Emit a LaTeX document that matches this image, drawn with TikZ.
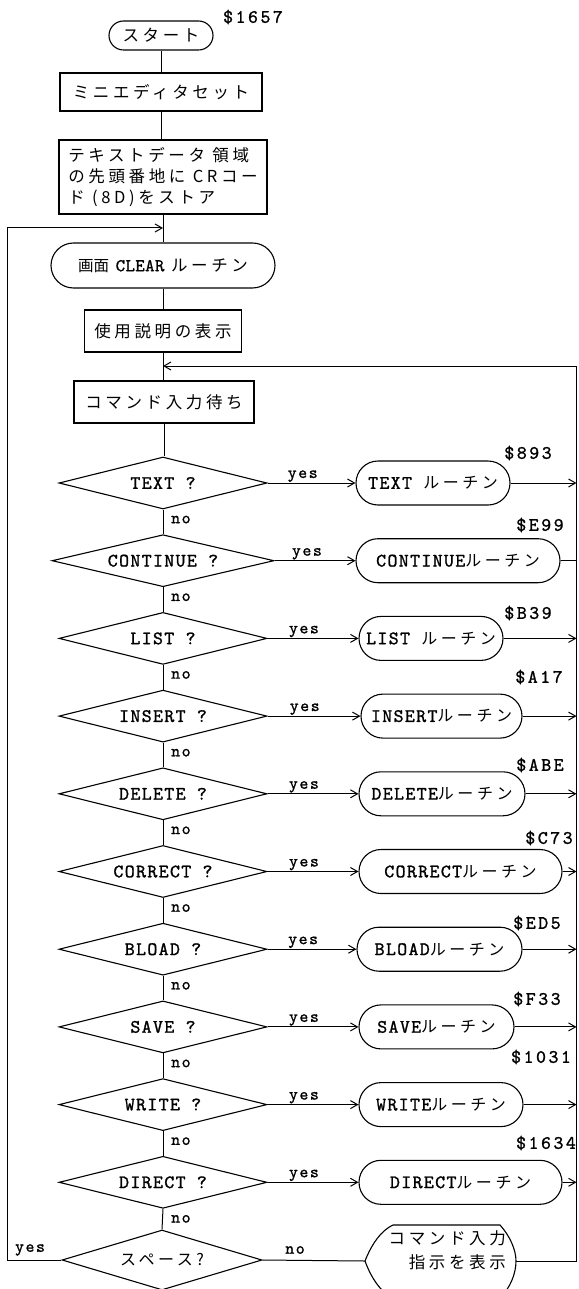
\documentclass[tikz,border=0pt]{standalone}
\usepackage{fontspec}
\newfontfamily\jp[LetterSpace=22]{Noto Sans CJK JP}
\newfontfamily\jpn{Noto Sans CJK JP}
\newfontfamily\twa[LetterSpace=7,FakeBold=1.2]{lmmono10-regular.otf}
\newfontfamily\twb[LetterSpace=13,FakeBold=1.2]{lmmono10-regular.otf}
\newfontfamily\twc[LetterSpace=9,FakeBold=1.2]{lmmono10-regular.otf}
\newfontfamily\twd[LetterSpace=2,FakeBold=1]{lmmono10-regular.otf}
\usetikzlibrary{shapes.geometric,shapes.misc,arrows.meta,calc}
\begin{document}
\begin{tikzpicture}[x=1pt,y=-1pt,
  box/.style={draw,line width=1.1pt,rectangle,inner sep=0pt},
  term/.style={draw,line width=1.1pt,rounded rectangle,inner sep=0pt},
  dec/.style={draw,line width=1.1pt,diamond,shape aspect=4,inner sep=0pt,minimum width=208pt,minimum height=52pt,font=\twa\fontsize{19}{21}\selectfont},
  rout/.style={term,minimum height=44pt,font=\twa\fontsize{19}{21}\selectfont},
  lbl/.style={inner sep=0pt,font=\twc\fontsize{17}{19}\selectfont},
  addr/.style={inner sep=0pt,font=\twb\fontsize{19}{21}\selectfont},
  conn/.style={line width=1pt},
  arr/.style={conn,-{Straight Barb[length=7pt,width=8pt]}},
  jpt/.style={font=\jp\fontsize{16.5}{21}\selectfont}
]
\useasboundingbox (0,0) rectangle (578,1289);
\newcommand{\ru}{{\jp\fontsize{16}{20}\selectfont ルーチン}}

% top chain
\node[term,minimum width=104pt,minimum height=29pt,jpt] (start) at (161,35.5) {スタート};
\node[addr] (as) at (253,17) {\$1657};
\node[box,minimum width=202pt,minimum height=38pt,jpt] (mini) at (161,92) {ミニエディタセット};
\node[box,minimum width=208pt,minimum height=74pt,jpt,align=left] (txt) at (163,177) {テキストデータ 領域\\の先頭番地に CRコー\\ド (8D)をストア};
\node[term,minimum width=224pt,minimum height=45pt] (clear) at (163,265.5) {{\jpn\fontsize{15.5}{18}\selectfont 画面}\ \ {\twd\fontsize{18}{20}\selectfont CLEAR}\ \ {\jp\fontsize{16.5}{21}\selectfont ルーチン}};
\node[box,minimum width=157pt,minimum height=42pt,jpt] (usage) at (163,331) {使用説明の表示};
\node[box,minimum width=180pt,minimum height=42pt,jpt] (wait) at (164,402) {コマンド入力待ち};

% decisions
\node[dec] (d0) at (163,483) {TEXT ?};
\node[dec,minimum width=222pt] (d1) at (163,560.7) {CONTINUE ?};
\node[dec] (d2) at (163,638.4) {LIST ?};
\node[dec] (d3) at (163,716.1) {INSERT ?};
\node[dec] (d4) at (163,793.8) {DELETE ?};
\node[dec] (d5) at (163,871.5) {CORRECT ?};
\node[dec] (d6) at (163,949.2) {BLOAD ?};
\node[dec] (d7) at (163,1026.9) {SAVE ?};
\node[dec] (d8) at (163,1104.6) {WRITE ?};
\node[dec] (d9) at (163,1182.3) {DIRECT ?};
\node[dec,minimum width=200pt,minimum height=60pt,font=\jp\fontsize{16}{20}\selectfont] (d10) at (162,1260) {スペース?};

% routines
\node[rout,minimum width=154pt] (r0) at (433,483) {TEXT \ru};
\node[rout,minimum width=204pt] (r1) at (458,560.7) {CONTINUE\ru};
\node[rout,minimum width=144pt] (r2) at (431,638.4) {LIST \ru};
\node[rout,minimum width=161pt] (r3) at (441.5,716.1) {INSERT\ru};
\node[rout,minimum width=166pt] (r4) at (442,793.8) {DELETE\ru};
\node[rout,minimum width=203pt] (r5) at (460.5,871.5) {CORRECT\ru};
\node[rout,minimum width=165pt] (r6) at (439.5,949.2) {BLOAD\ru};
\node[rout,minimum width=155pt] (r7) at (436.5,1026.9) {SAVE\ru};
\node[rout,minimum width=164pt] (r8) at (441,1104.6) {WRITE\ru};
\node[rout,minimum width=203pt] (r9) at (460.5,1182.3) {DIRECT\ru};

% addresses
\node[addr] (a0) at (528,453) {\$893};
\node[addr] (a1) at (540,525) {\$E99};
\node[addr] (a2) at (528,613) {\$B39};
\node[addr] (a3) at (539,677) {\$A17};
\node[addr] (a4) at (540,765) {\$ABE};
\node[addr] (a5) at (549,838) {\$C73};
\node[addr] (a6) at (537,923) {\$ED5};
\node[addr] (a7) at (537,999) {\$F33};
\node[addr] (a8) at (541,1057) {\$1031};
\node[addr] (a9) at (546,1143) {\$1634};

% display node
\coordinate (dispL) at (365,1261);
\coordinate (dispR) at (516,1261);
\draw[line width=1.1pt] (dispL) .. controls (372,1243) and (382,1230) .. (393,1225) -- (500,1225)
  .. controls (510,1236) and (516,1250) .. (dispR)
  .. controls (516,1274) and (510,1288) .. (500,1298) -- (393,1298)
  .. controls (382,1293) and (372,1280) .. (dispL);
\node[align=right,anchor=east,inner sep=0pt,font=\jp\fontsize{16.5}{24}\selectfont] (disp) at (506,1250) {コマンド入力\\指示を表示};

% junction coordinates
\coordinate (j1) at (163,228);
\coordinate (lt) at (7,228);
\coordinate (lb) at (7,1260);
\coordinate (j2) at (163,366);
\coordinate (rtop) at (576.5,366);
\coordinate (rbot) at (576.5,1261);

% main chain
\draw[conn] (start.south) -- (start.south |- mini.north);
\draw[conn] (mini.south) -- (mini.south |- txt.north);
\draw[conn] (txt.south) -- (txt.south |- clear.north);
\draw[conn] (clear.south) -- (clear.south |- usage.north);
\draw[conn] (usage.south) -- (usage.south |- wait.north);
\draw[conn] (wait.south) -- (wait.south |- d0.north);
\foreach \a/\b in {d0/d1,d1/d2,d2/d3,d3/d4,d4/d5,d5/d6,d6/d7,d7/d8,d8/d9,d9/d10}{
  \draw[conn] (\a.south) -- (\b.north);
}
% no labels
\foreach \d in {d0,d1,d2,d3,d4,d5,d6,d7,d8,d9}{
  \node[lbl,anchor=west] at ([xshift=8pt,yshift=-10pt]\d.south) {no};
}
% yes branches
\foreach \i in {0,...,9}{
  \draw[arr] (d\i.east) -- (r\i.west);
  \node[lbl,anchor=south] at ($(d\i.east)!0.4!(r\i.west)+(0,-1)$) {yes};
}
% to right line
\foreach \i in {0,2,3,4,5,6,7,8,9}{
  \draw[arr] (r\i.east) -- (r\i.east -| rtop);
}
\draw[conn] (r1.east) -- (r1.east -| rtop);

% bottom
\draw[conn] (d10.east) -- (dispL);
\node[lbl] (nol) at (295,1250) {no};
\draw[conn] (dispR) -- (rbot);
\draw[arr] (rbot) -- (rtop) -- (j2);
\draw[arr] (d10.west) -- (lb) -- (lt) -- (j1);
\node[lbl] (yesl) at (30,1250) {yes};
\end{tikzpicture}
\end{document}
